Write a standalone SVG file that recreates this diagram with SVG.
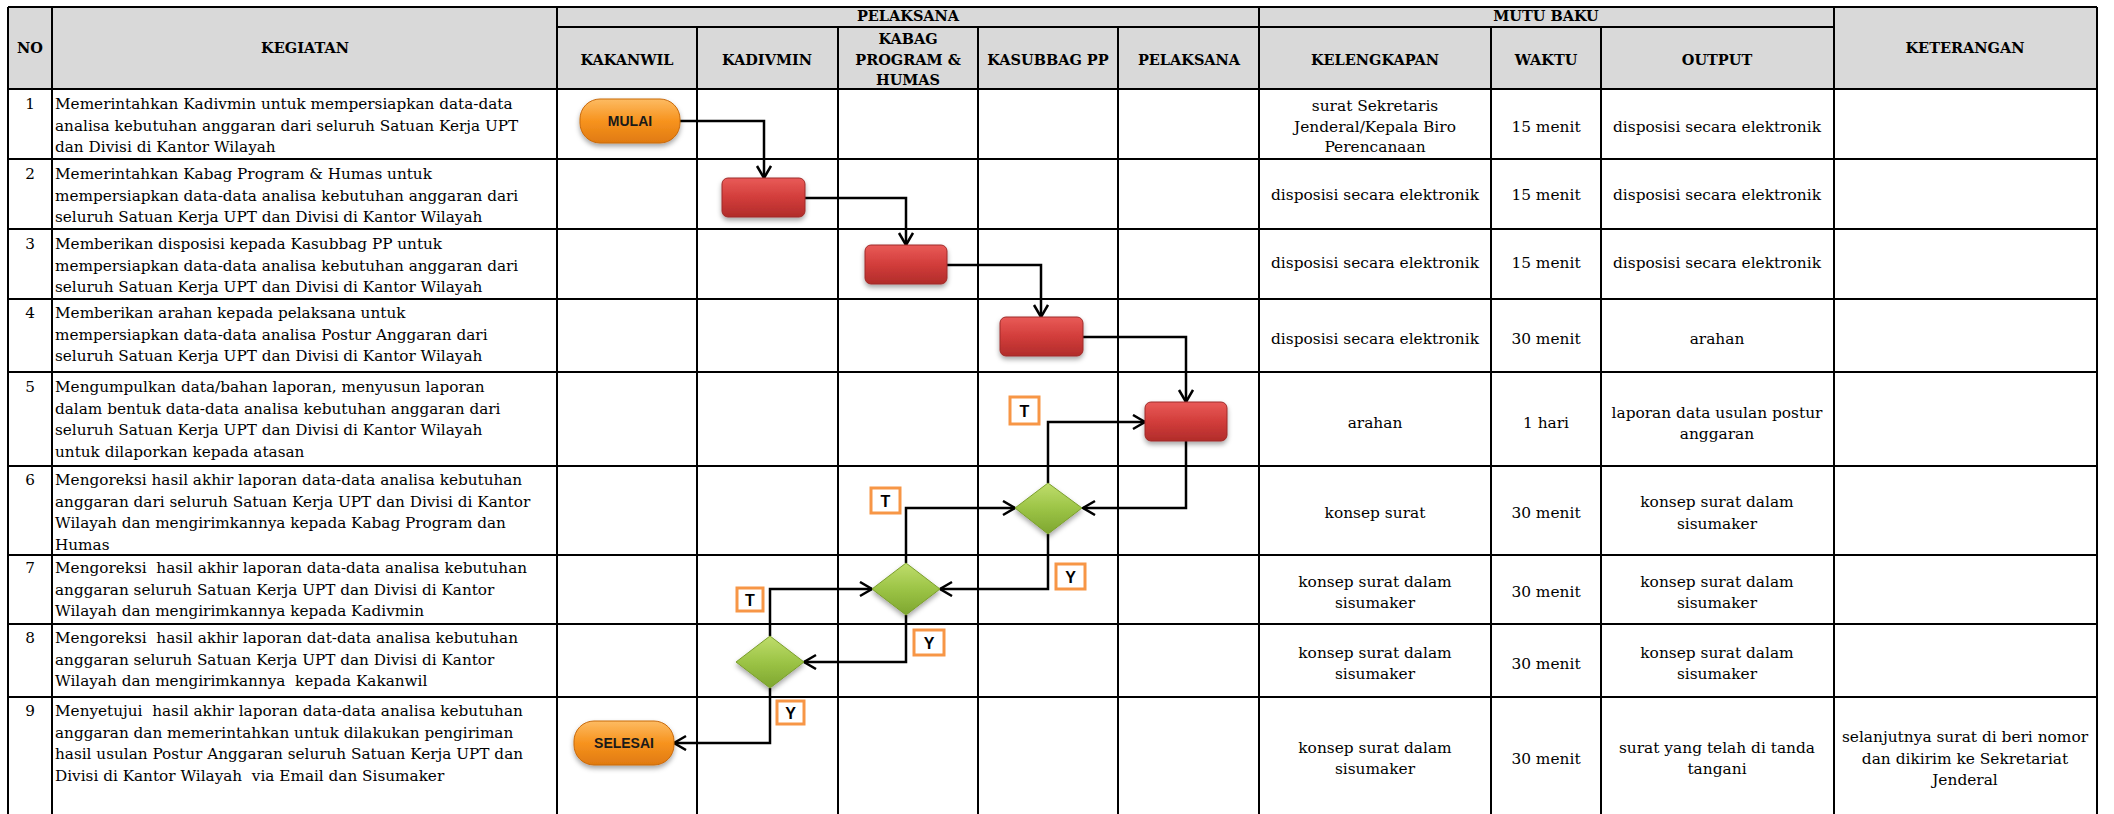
<svg xmlns="http://www.w3.org/2000/svg" width="2114" height="814" viewBox="0 0 2114 814">
<defs>
<style>
.grid{stroke:#000;stroke-width:2;fill:none}
.hdr{font-family:"DejaVu Serif",serif;font-weight:bold;font-size:14.5px;text-anchor:middle;fill:#000}
.t{font-family:"DejaVu Serif",serif;font-size:15.25px;fill:#000;white-space:pre}
.m{font-size:15.4px}
.c{text-anchor:middle}
.conn{stroke:#000;stroke-width:2.5;fill:none;marker-end:url(#arr)}
.box{fill:url(#gRed);stroke:#9e2a28;stroke-width:1;filter:url(#sh)}
.term{fill:url(#gOr);stroke:#c86a0c;stroke-width:1;filter:url(#sh)}
.dia{fill:url(#gGr);stroke:#7a9e2c;stroke-width:1;filter:url(#sh)}
.tl{font-family:"Liberation Sans",Arial,sans-serif;font-weight:bold;font-size:14px;text-anchor:middle;fill:#1a1a1a}
.lb rect{fill:#fff;stroke:#F79646;stroke-width:3}
.lb text{font-family:"Liberation Sans",Arial,sans-serif;font-weight:bold;font-size:16px;text-anchor:middle;fill:#000}
</style>
<linearGradient id="gRed" x1="0" y1="0" x2="0" y2="1">
<stop offset="0" stop-color="#E95B58"/><stop offset="0.5" stop-color="#D23D3B"/><stop offset="1" stop-color="#B12C2A"/>
</linearGradient>
<linearGradient id="gOr" x1="0" y1="0" x2="0" y2="1">
<stop offset="0" stop-color="#FDBB62"/><stop offset="0.5" stop-color="#F7931E"/><stop offset="1" stop-color="#E07A10"/>
</linearGradient>
<linearGradient id="gGr" x1="0" y1="0" x2="0" y2="1">
<stop offset="0" stop-color="#BFDD6C"/><stop offset="0.5" stop-color="#9CC446"/><stop offset="1" stop-color="#7EA630"/>
</linearGradient>
<filter id="sh" x="-20%" y="-20%" width="140%" height="160%">
<feDropShadow dx="0" dy="3" stdDeviation="2.5" flood-color="#000" flood-opacity="0.35"/>
</filter>
<marker id="arr" markerUnits="userSpaceOnUse" markerWidth="16" markerHeight="18" refX="13" refY="8" orient="auto">
<path d="M1,1 L13,8 L1,15" fill="none" stroke="#000" stroke-width="2.5"/>
</marker>
</defs>

<g id="table">
<rect x="8" y="7" width="2089" height="82" fill="#D9D9D9"/>
<path class="grid" d="M8,7V814M52,7V814M557,7V814M697,27V814M838,27V814M978,27V814M1118,27V814M1259,7V814M1491,27V814M1601,27V814M1834,7V814M2097,7V814"/>
<path class="grid" d="M8,7H2097M557,27H1834M8,89H2097M8,159H2097M8,229H2097M8,299H2097M8,372H2097M8,466H2097M8,555H2097M8,624H2097M8,697H2097"/>
</g>

<g id="header">
<text class="hdr" x="30" y="53">NO</text>
<text class="hdr" x="305" y="53">KEGIATAN</text>
<text class="hdr" x="908" y="21">PELAKSANA</text>
<text class="hdr" x="1546" y="21">MUTU BAKU</text>
<text class="hdr" x="1965" y="53">KETERANGAN</text>
<text class="hdr" x="627" y="65">KAKANWIL</text>
<text class="hdr" x="767" y="65">KADIVMIN</text>
<text class="hdr" x="908" y="44">KABAG</text>
<text class="hdr" x="908" y="64.5">PROGRAM &amp;</text>
<text class="hdr" x="908" y="85">HUMAS</text>
<text class="hdr" x="1048" y="65">KASUBBAG PP</text>
<text class="hdr" x="1189" y="65">PELAKSANA</text>
<text class="hdr" x="1375" y="65">KELENGKAPAN</text>
<text class="hdr" x="1546" y="65">WAKTU</text>
<text class="hdr" x="1717" y="65">OUTPUT</text>
</g>

<g id="numbers">
<text class="t c" x="30" y="109">1</text>
<text class="t c" x="30" y="179">2</text>
<text class="t c" x="30" y="249">3</text>
<text class="t c" x="30" y="318">4</text>
<text class="t c" x="30" y="392">5</text>
<text class="t c" x="30" y="485">6</text>
<text class="t c" x="30" y="573">7</text>
<text class="t c" x="30" y="643">8</text>
<text class="t c" x="30" y="716">9</text>
</g>

<g id="kegiatan">
<text class="t" x="55" y="109">Memerintahkan Kadivmin untuk mempersiapkan data-data</text>
<text class="t" x="55" y="130.5">analisa kebutuhan anggaran dari seluruh Satuan Kerja UPT</text>
<text class="t" x="55" y="152">dan Divisi di Kantor Wilayah</text>
<text class="t" x="55" y="179">Memerintahkan Kabag Program &amp; Humas untuk</text>
<text class="t" x="55" y="200.5">mempersiapkan data-data analisa kebutuhan anggaran dari</text>
<text class="t" x="55" y="222">seluruh Satuan Kerja UPT dan Divisi di Kantor Wilayah</text>
<text class="t" x="55" y="249">Memberikan disposisi kepada Kasubbag PP untuk</text>
<text class="t" x="55" y="270.5">mempersiapkan data-data analisa kebutuhan anggaran dari</text>
<text class="t" x="55" y="292">seluruh Satuan Kerja UPT dan Divisi di Kantor Wilayah</text>
<text class="t" x="55" y="318">Memberikan arahan kepada pelaksana untuk</text>
<text class="t" x="55" y="339.5">mempersiapkan data-data analisa Postur Anggaran dari</text>
<text class="t" x="55" y="361">seluruh Satuan Kerja UPT dan Divisi di Kantor Wilayah</text>
<text class="t" x="55" y="392">Mengumpulkan data/bahan laporan, menyusun laporan</text>
<text class="t" x="55" y="413.7">dalam bentuk data-data analisa kebutuhan anggaran dari</text>
<text class="t" x="55" y="435.4">seluruh Satuan Kerja UPT dan Divisi di Kantor Wilayah</text>
<text class="t" x="55" y="457.1">untuk dilaporkan kepada atasan</text>
<text class="t" x="55" y="485">Mengoreksi hasil akhir laporan data-data analisa kebutuhan</text>
<text class="t" x="55" y="506.7">anggaran dari seluruh Satuan Kerja UPT dan Divisi di Kantor</text>
<text class="t" x="55" y="528.4">Wilayah dan mengirimkannya kepada Kabag Program dan</text>
<text class="t" x="55" y="550.1">Humas</text>
<text class="t" x="55" y="573">Mengoreksi  hasil akhir laporan data-data analisa kebutuhan</text>
<text class="t" x="55" y="594.7">anggaran seluruh Satuan Kerja UPT dan Divisi di Kantor</text>
<text class="t" x="55" y="616.4">Wilayah dan mengirimkannya kepada Kadivmin</text>
<text class="t" x="55" y="643">Mengoreksi  hasil akhir laporan dat-data analisa kebutuhan</text>
<text class="t" x="55" y="664.7">anggaran seluruh Satuan Kerja UPT dan Divisi di Kantor</text>
<text class="t" x="55" y="686.4">Wilayah dan mengirimkannya  kepada Kakanwil</text>
<text class="t" x="55" y="716">Menyetujui  hasil akhir laporan data-data analisa kebutuhan</text>
<text class="t" x="55" y="737.7">anggaran dan memerintahkan untuk dilakukan pengiriman</text>
<text class="t" x="55" y="759.4">hasil usulan Postur Anggaran seluruh Satuan Kerja UPT dan</text>
<text class="t" x="55" y="781.1">Divisi di Kantor Wilayah  via Email dan Sisumaker</text>
</g>

<g id="mutu">
<text class="t m c" x="1375" y="111">surat Sekretaris</text>
<text class="t m c" x="1375" y="131.7">Jenderal/Kepala Biro</text>
<text class="t m c" x="1375" y="152">Perencanaan</text>
<text class="t m c" x="1546" y="131.7">15 menit</text>
<text class="t m c" x="1717" y="131.7">disposisi secara elektronik</text>
<text class="t m c" x="1375" y="200">disposisi secara elektronik</text>
<text class="t m c" x="1546" y="200">15 menit</text>
<text class="t m c" x="1717" y="200">disposisi secara elektronik</text>
<text class="t m c" x="1375" y="268.3">disposisi secara elektronik</text>
<text class="t m c" x="1546" y="268.3">15 menit</text>
<text class="t m c" x="1717" y="268.3">disposisi secara elektronik</text>
<text class="t m c" x="1375" y="344">disposisi secara elektronik</text>
<text class="t m c" x="1546" y="344">30 menit</text>
<text class="t m c" x="1717" y="344">arahan</text>
<text class="t m c" x="1375" y="428.3">arahan</text>
<text class="t m c" x="1546" y="428.3">1 hari</text>
<text class="t m c" x="1717" y="417.7">laporan data usulan postur</text>
<text class="t m c" x="1717" y="439">anggaran</text>
<text class="t m c" x="1375" y="517.7">konsep surat</text>
<text class="t m c" x="1546" y="517.7">30 menit</text>
<text class="t m c" x="1717" y="507.3">konsep surat dalam</text>
<text class="t m c" x="1717" y="529">sisumaker</text>
<text class="t m c" x="1375" y="586.7">konsep surat dalam</text>
<text class="t m c" x="1375" y="608.3">sisumaker</text>
<text class="t m c" x="1546" y="597.3">30 menit</text>
<text class="t m c" x="1717" y="586.7">konsep surat dalam</text>
<text class="t m c" x="1717" y="608.3">sisumaker</text>
<text class="t m c" x="1375" y="657.7">konsep surat dalam</text>
<text class="t m c" x="1375" y="679.3">sisumaker</text>
<text class="t m c" x="1546" y="669">30 menit</text>
<text class="t m c" x="1717" y="657.7">konsep surat dalam</text>
<text class="t m c" x="1717" y="679.3">sisumaker</text>
<text class="t m c" x="1375" y="753.3">konsep surat dalam</text>
<text class="t m c" x="1375" y="774.3">sisumaker</text>
<text class="t m c" x="1546" y="764">30 menit</text>
<text class="t m c" x="1717" y="753.3">surat yang telah di tanda</text>
<text class="t m c" x="1717" y="774.3">tangani</text>
<text class="t m c" x="1965" y="742.3">selanjutnya surat di beri nomor</text>
<text class="t m c" x="1965" y="764">dan dikirim ke Sekretariat</text>
<text class="t m c" x="1965" y="785">Jenderal</text>
</g>

<g id="connectors">
<path class="conn" d="M680,121H764V178"/>
<path class="conn" d="M805,198H906V245"/>
<path class="conn" d="M947,265H1041V317"/>
<path class="conn" d="M1083,337H1186V402"/>
<path class="conn" d="M1186,441V508H1083"/>
<path class="conn" d="M1048,483V422H1145"/>
<path class="conn" d="M1048,534V589H940"/>
<path class="conn" d="M906,563V508H1015"/>
<path class="conn" d="M906,615V662H804"/>
<path class="conn" d="M770,636V589H872"/>
<path class="conn" d="M770,688V743H674"/>
</g>

<g id="mulai">
<rect class="term" x="580" y="99" width="100" height="44" rx="20"/>
<text class="tl" x="630" y="126">MULAI</text>
</g>
<g id="step2"><rect class="box" x="722" y="178" width="83" height="39" rx="6"/></g>
<g id="step3"><rect class="box" x="865" y="245" width="82" height="39" rx="6"/></g>
<g id="step4"><rect class="box" x="1000" y="317" width="83" height="39" rx="6"/></g>
<g id="step5"><rect class="box" x="1145" y="402" width="82" height="39" rx="6"/></g>
<g id="dec6"><path class="dia" d="M1048,483L1082,508L1048,534L1015,508Z"/></g>
<g id="dec7"><path class="dia" d="M906,563L940,589L906,615L872,589Z"/></g>
<g id="dec8"><path class="dia" d="M770,636L804,662L770,688L736,662Z"/></g>
<g id="selesai">
<rect class="term" x="574" y="721" width="100" height="44" rx="20"/>
<text class="tl" x="624" y="748">SELESAI</text>
</g>

<g id="labels">
<g class="lb"><rect x="1010" y="397" width="29" height="27"/><text x="1024.5" y="416.5">T</text></g>
<g class="lb"><rect x="871" y="488" width="29" height="25"/><text x="885.5" y="506.5">T</text></g>
<g class="lb"><rect x="1056" y="564" width="29" height="25"/><text x="1070.5" y="582.5">Y</text></g>
<g class="lb"><rect x="737" y="588" width="26" height="23"/><text x="750" y="605.5">T</text></g>
<g class="lb"><rect x="914" y="630" width="30" height="25"/><text x="929" y="648.5">Y</text></g>
<g class="lb"><rect x="777" y="701" width="27" height="23"/><text x="790.5" y="718.5">Y</text></g>
</g>
</svg>
